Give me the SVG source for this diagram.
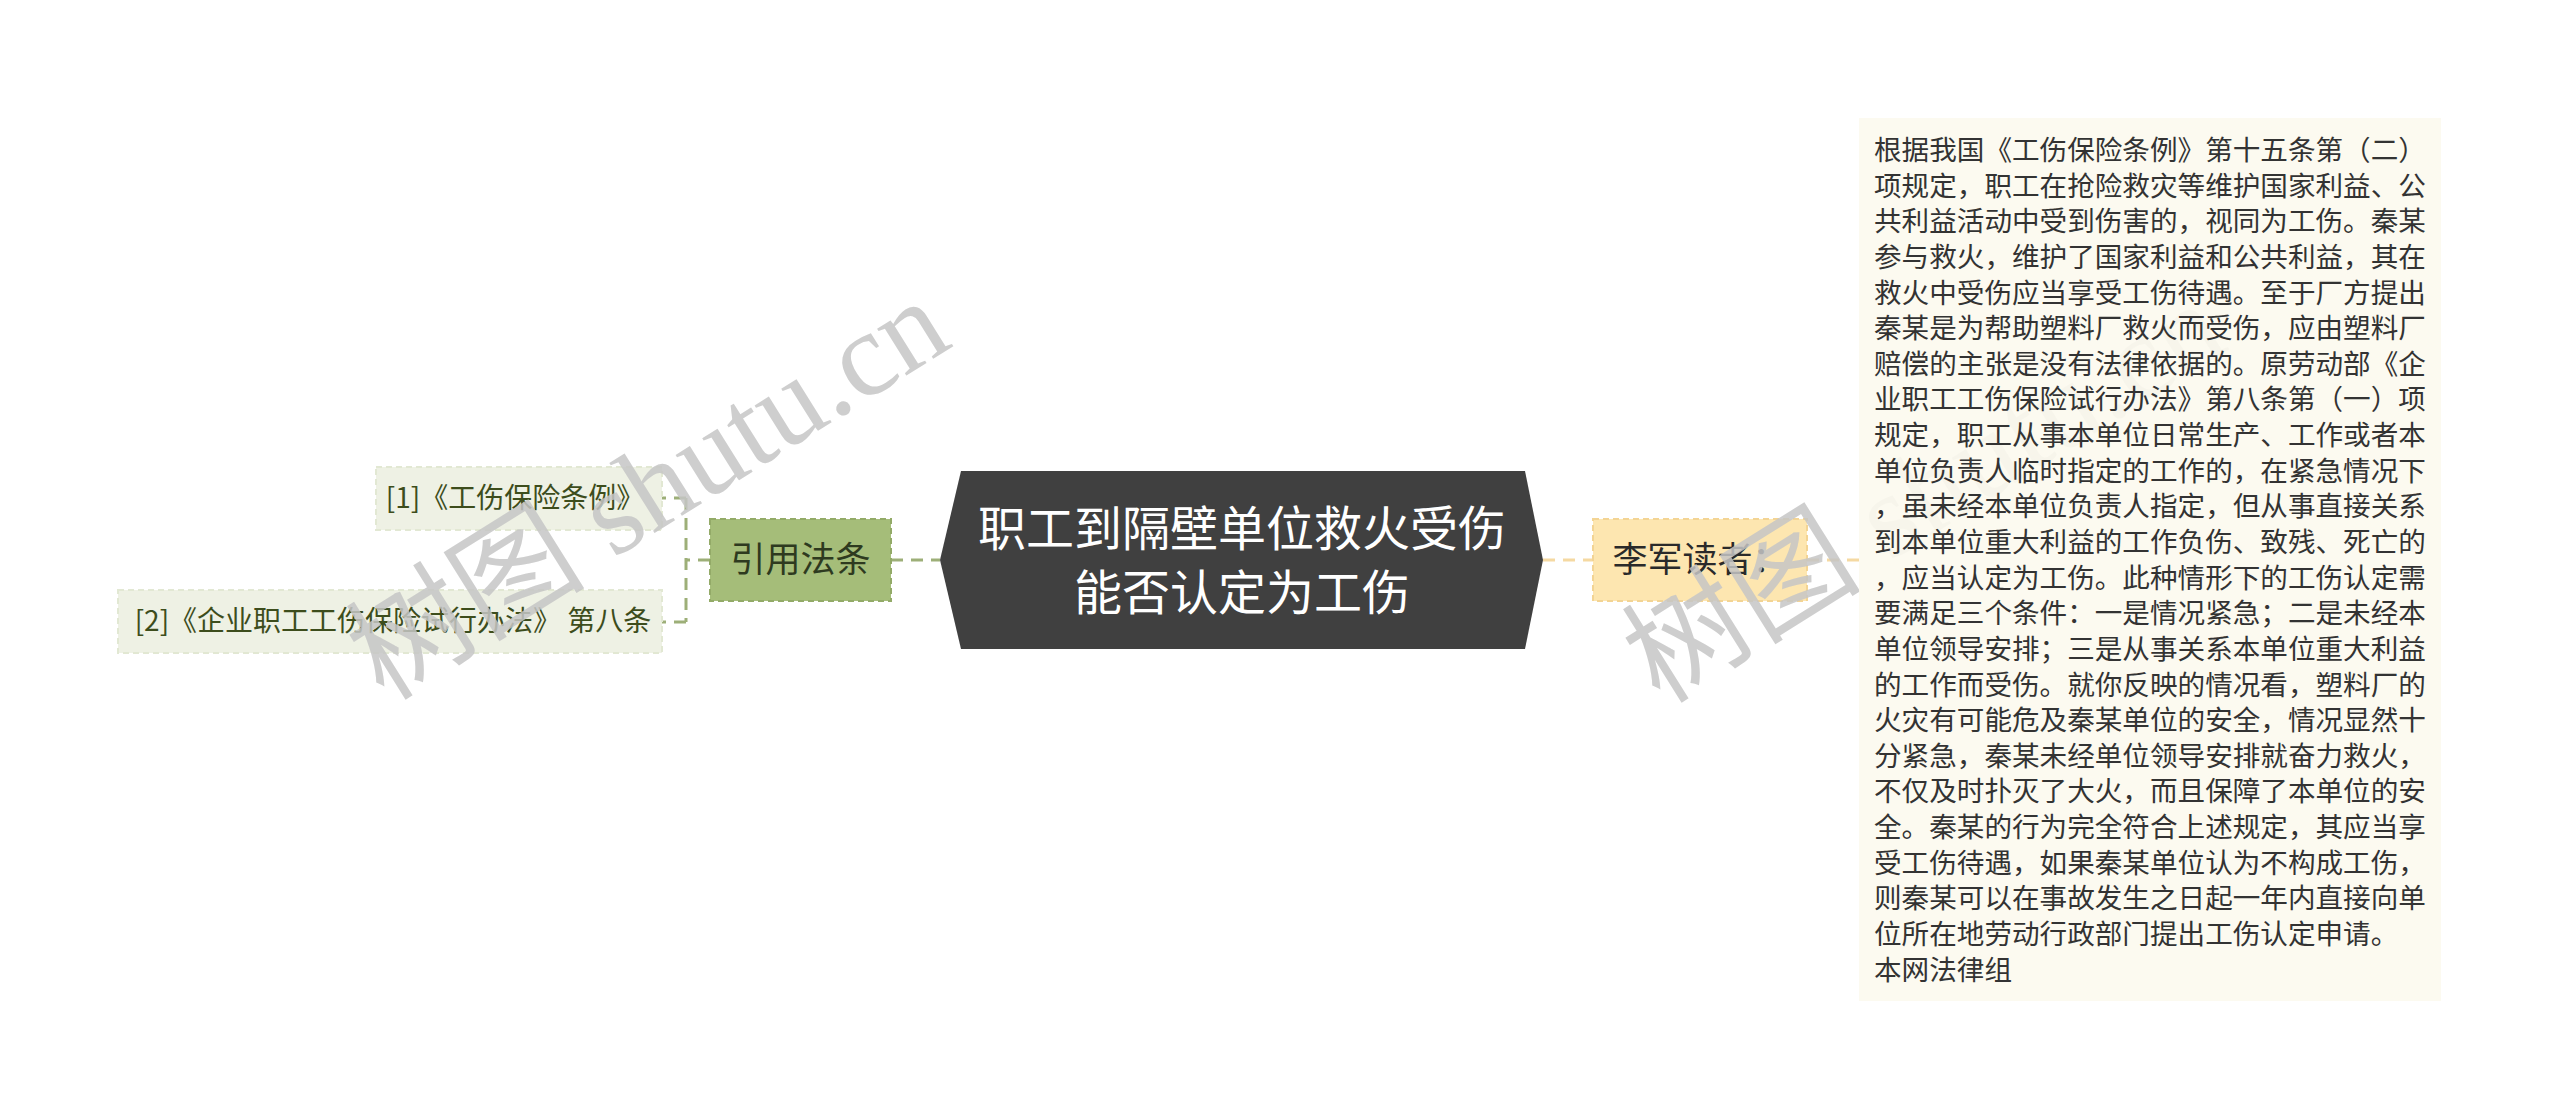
<svg xmlns="http://www.w3.org/2000/svg" width="2560" height="1120" viewBox="0 0 2560 1120">
<style>
.cjk{font-family:"Noto Sans CJK SC","Noto Sans",sans-serif;}
.main{fill:#ffffff;font-size:48px;text-anchor:middle;}
.sub1{fill:#2e3a1f;font-size:35px;text-anchor:middle;}
.leaf{fill:#3d4d1c;font-size:28px;text-anchor:middle;}
.sub2{fill:#2a2a2a;font-size:35px;text-anchor:middle;}
.body{fill:#333333;font-size:27.6px;}
.gline{fill:none;stroke:#9daf78;stroke-width:3;stroke-dasharray:12 8;}
.yline{fill:none;stroke:#f5d9a2;stroke-width:3;stroke-dasharray:12 8;}
.wm{font-family:"Liberation Serif","Noto Sans CJK SC",serif;font-size:120px;fill:#c6c6c6;opacity:0.85;}
</style>
<rect x="0" y="0" width="2560" height="1120" fill="#ffffff"/>
<g id="connectors">
<path class="gline" d="M891,560 H940"/>
<path class="gline" d="M710,560 H686 M686,498 V622 M686,498 H662 M686,622 H662"/>
<path class="yline" d="M1543,560 H1593"/>
<path class="yline" d="M1807,560 H1859"/>
</g>
<g id="node-root">
<polygon points="940,560 961,471 1525,471 1543,560 1525,649 961,649" fill="#404040"/>
<text class="cjk main" x="1242" y="546">职工到隔壁单位救火受伤</text>
<text class="cjk main" x="1242" y="610">能否认定为工伤</text>
</g>
<g id="node-yinyong">
<rect x="710" y="519" width="181" height="82" fill="#a5bd79" stroke="#93aa68" stroke-width="2" stroke-dasharray="6 4"/>
<text class="cjk sub1" x="800.5" y="572">引用法条</text>
</g>
<g id="node-law1">
<rect x="376" y="467" width="286" height="63" fill="#eef1e4" stroke="#e2e8d3" stroke-width="2" stroke-dasharray="6 4"/>
<text class="cjk leaf" x="515" y="508">[1]《工伤保险条例》</text>
</g>
<g id="node-law2">
<rect x="118" y="590" width="544" height="63" fill="#eef1e4" stroke="#e2e8d3" stroke-width="2" stroke-dasharray="6 4"/>
<text class="cjk leaf" x="393" y="631">[2]《企业职工工伤保险试行办法》 第八条</text>
</g>
<g id="node-reader">
<rect x="1593" y="519" width="214" height="82" fill="#fde6b0" stroke="#f3d494" stroke-width="2" stroke-dasharray="6 4"/>
<text class="cjk sub2" x="1700" y="572">李军读者：</text>
</g>
<g id="watermark-1">
<text class="wm" transform="translate(384,702) rotate(-32)">树图 shutu.cn</text>
</g>
<g id="watermark-2">
<text class="wm" transform="translate(1660,705) rotate(-32)">树图 shutu.cn</text>
</g>
<g id="node-answer">
<rect x="1859" y="118" width="582" height="883" fill="#fcf9ee" fill-opacity="0.9"/>
<text class="cjk body">
<tspan x="1874" y="160">根据我国《工伤保险条例》第十五条第（二）</tspan>
<tspan x="1874" y="195.6">项规定，职工在抢险救灾等维护国家利益、公</tspan>
<tspan x="1874" y="231.3">共利益活动中受到伤害的，视同为工伤。秦某</tspan>
<tspan x="1874" y="266.9">参与救火，维护了国家利益和公共利益，其在</tspan>
<tspan x="1874" y="302.5">救火中受伤应当享受工伤待遇。至于厂方提出</tspan>
<tspan x="1874" y="338.2">秦某是为帮助塑料厂救火而受伤，应由塑料厂</tspan>
<tspan x="1874" y="373.8">赔偿的主张是没有法律依据的。原劳动部《企</tspan>
<tspan x="1874" y="409.4">业职工工伤保险试行办法》第八条第（一）项</tspan>
<tspan x="1874" y="445">规定，职工从事本单位日常生产、工作或者本</tspan>
<tspan x="1874" y="480.7">单位负责人临时指定的工作的，在紧急情况下</tspan>
<tspan x="1874" y="516.3">，虽未经本单位负责人指定，但从事直接关系</tspan>
<tspan x="1874" y="551.9">到本单位重大利益的工作负伤、致残、死亡的</tspan>
<tspan x="1874" y="587.6">，应当认定为工伤。此种情形下的工伤认定需</tspan>
<tspan x="1874" y="623.2">要满足三个条件：一是情况紧急；二是未经本</tspan>
<tspan x="1874" y="658.8">单位领导安排；三是从事关系本单位重大利益</tspan>
<tspan x="1874" y="694.5">的工作而受伤。就你反映的情况看，塑料厂的</tspan>
<tspan x="1874" y="730.1">火灾有可能危及秦某单位的安全，情况显然十</tspan>
<tspan x="1874" y="765.7">分紧急，秦某未经单位领导安排就奋力救火，</tspan>
<tspan x="1874" y="801.4">不仅及时扑灭了大火，而且保障了本单位的安</tspan>
<tspan x="1874" y="837">全。秦某的行为完全符合上述规定，其应当享</tspan>
<tspan x="1874" y="872.6">受工伤待遇，如果秦某单位认为不构成工伤，</tspan>
<tspan x="1874" y="908.3">则秦某可以在事故发生之日起一年内直接向单</tspan>
<tspan x="1874" y="943.9">位所在地劳动行政部门提出工伤认定申请。</tspan>
<tspan x="1874" y="979.5">本网法律组</tspan>
</text>
</g>
</svg>
